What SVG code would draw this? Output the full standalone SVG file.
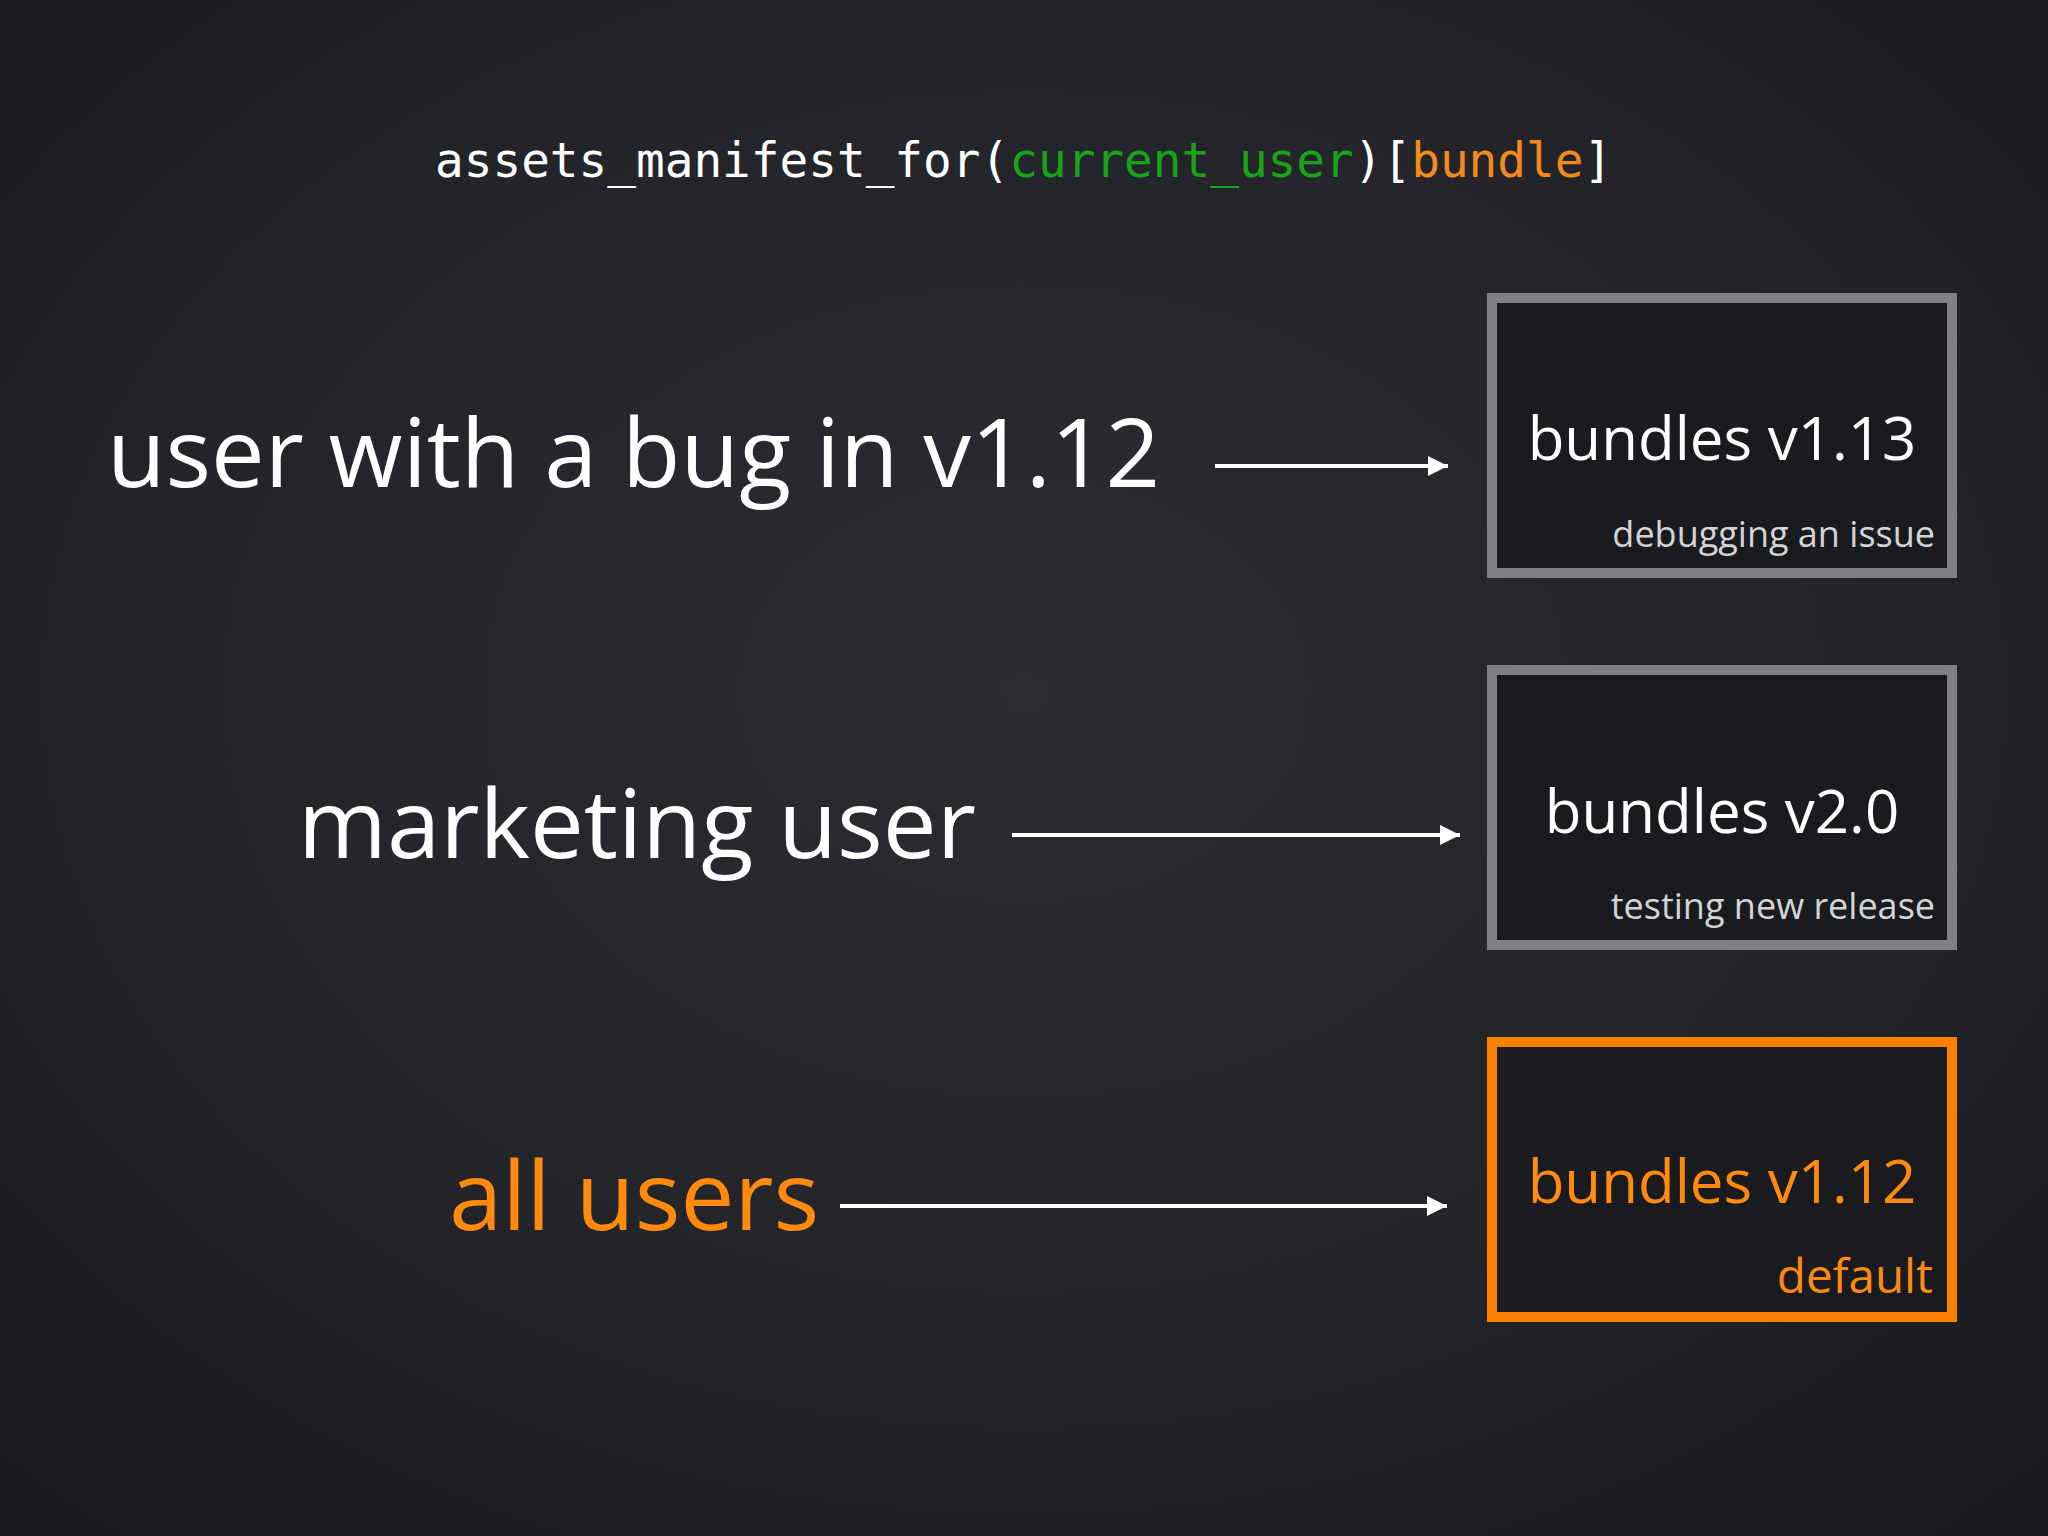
<svg xmlns="http://www.w3.org/2000/svg" width="2048" height="1536" viewBox="0 0 2048 1536">
  <defs>
    <radialGradient id="bg" cx="50%" cy="45%" r="75%">
      <stop offset="0" stop-color="#2b2c31"/>
      <stop offset="0.6" stop-color="#232429"/>
      <stop offset="1" stop-color="#17181c"/>
    </radialGradient>
    <marker id="arrow" viewBox="0 0 20 20" refX="20" refY="10" markerUnits="userSpaceOnUse" markerWidth="20" markerHeight="20" orient="auto">
      <path d="M0,0 L20,10 L0,20 Z" fill="#ffffff"/>
    </marker>
  </defs>
  <style>
    .code { font-family: "DejaVu Sans Mono", "Liberation Mono", monospace; font-size: 47.7px; fill: #ffffff; }
    .green { fill: #19a319; }
    .orangecode { fill: #f28a1e; }
    .label { font-family: "Open Sans", "Noto Sans", sans-serif; font-size: 96px; fill: #ffffff; }
    .title { font-family: "Open Sans", "Noto Sans", sans-serif; font-size: 60px; fill: #ffffff; text-anchor: middle; }
    .sub { font-family: "Open Sans", "Noto Sans", sans-serif; font-size: 36px; fill: #d4d4d6; text-anchor: end; }
    .box { fill: #1a1b1f; stroke: #808083; stroke-width: 10; }
    .orange-box { stroke: #ff8000; }
    .orange { fill: #ff8a0d; }
    .conn { stroke: #ffffff; stroke-width: 4; fill: none; marker-end: url(#arrow); }
  </style>
  <rect x="0" y="0" width="2048" height="1536" fill="url(#bg)"/>

  <g id="header">
    <text class="code" x="435" y="177">assets_manifest_for(<tspan class="green">current_user</tspan>)[<tspan class="orangecode">bundle</tspan>]</text>
  </g>

  <g id="label-bug">
    <text class="label" x="107" y="487" textLength="1053" lengthAdjust="spacingAndGlyphs">user with a bug in v1.12</text>
  </g>
  <g id="label-marketing">
    <text class="label" x="298" y="858">marketing user</text>
  </g>
  <g id="label-all">
    <text class="label orange" x="449" y="1230">all users</text>
  </g>

  <g id="box-v113">
    <rect class="box" x="1492" y="298" width="460" height="275"/>
    <text class="title" x="1722" y="460">bundles v1.13</text>
    <text class="sub" x="1935" y="547">debugging an issue</text>
  </g>
  <g id="box-v20">
    <rect class="box" x="1492" y="670" width="460" height="275"/>
    <text class="title" x="1722" y="833">bundles v2.0</text>
    <text class="sub" x="1935" y="919">testing new release</text>
  </g>
  <g id="box-v112">
    <rect class="box orange-box" x="1492" y="1042" width="460" height="275"/>
    <text class="title orange" x="1722" y="1203">bundles v1.12</text>
    <text class="sub orange" x="1933" y="1293" style="font-size:47.5px">default</text>
  </g>

  <g id="connectors">
    <line class="conn" x1="1215" y1="466" x2="1448" y2="466"/>
    <line class="conn" x1="1012" y1="835" x2="1460" y2="835"/>
    <line class="conn" x1="840" y1="1206" x2="1447" y2="1206"/>
  </g>
</svg>
